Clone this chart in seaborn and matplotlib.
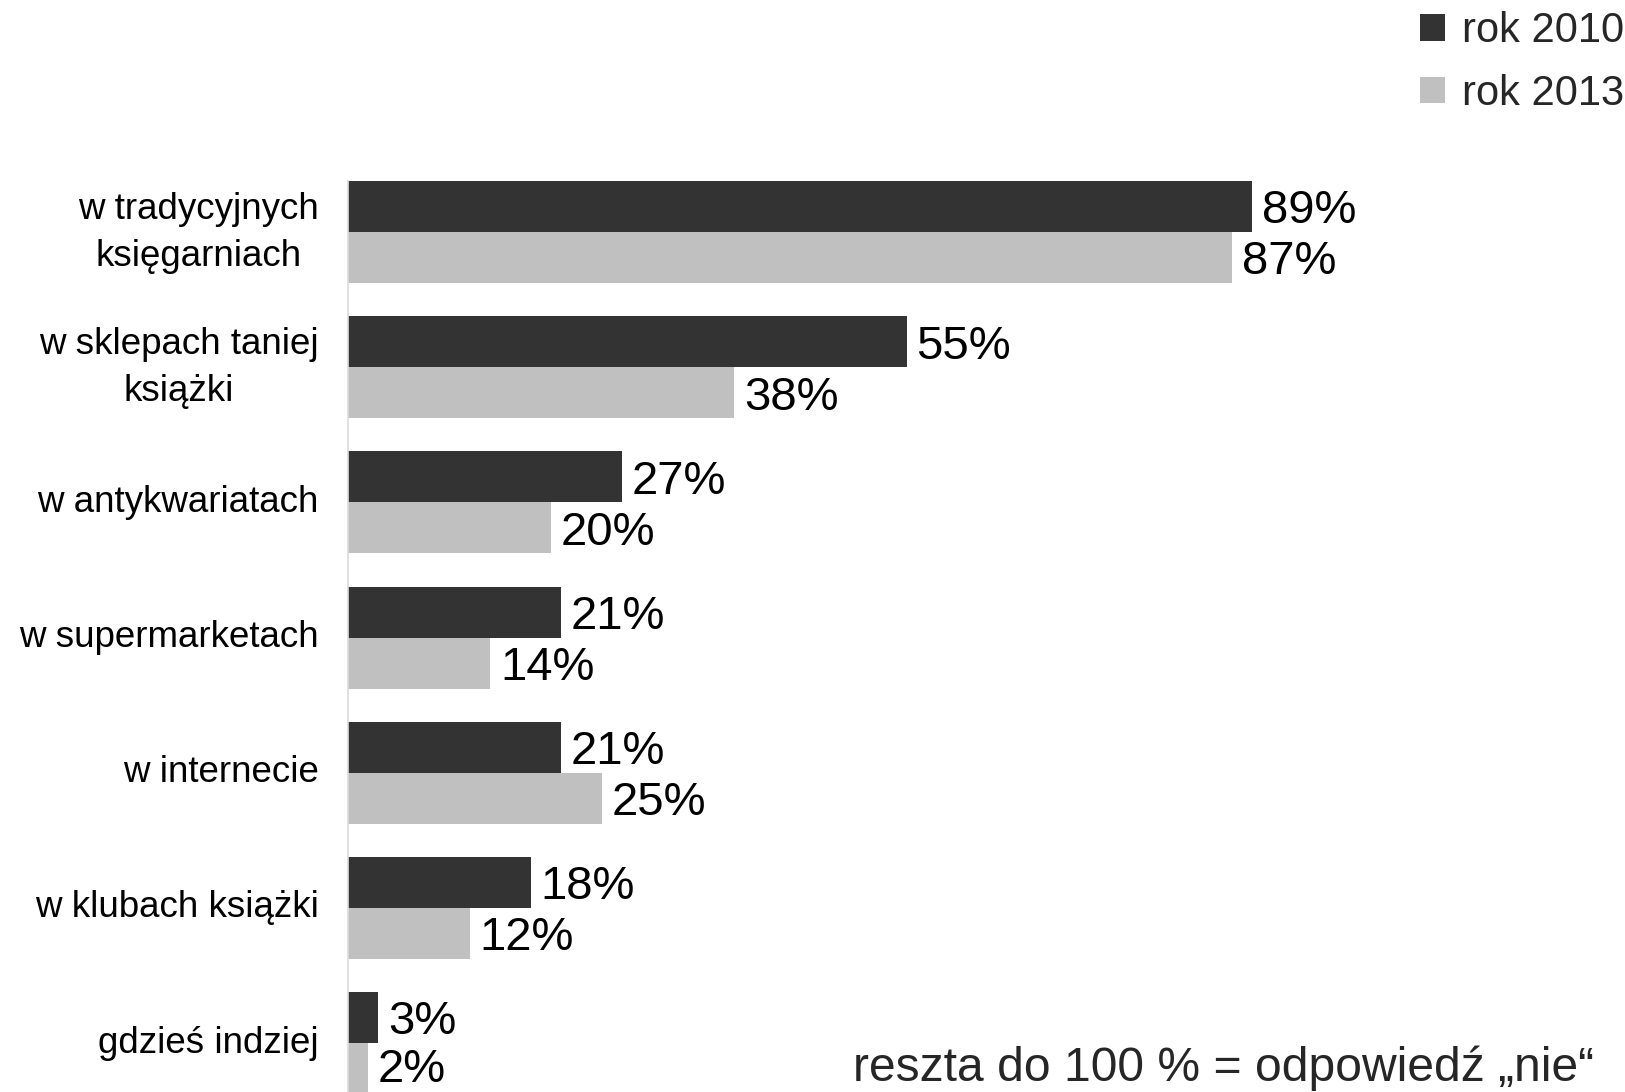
import pandas as pd
import seaborn as sns
import matplotlib.pyplot as plt
import matplotlib.transforms as mtransforms

# dane
miejsca = ["w tradycyjnych\nksięgarniach", "w sklepach taniej\nksiążki", "w antykwariatach",
           "w supermarketach", "w internecie", "w klubach książki", "gdzieś indziej"]
rok_2010 = [89, 55, 27, 21, 21, 18, 3]
rok_2013 = [87, 38, 20, 14, 25, 12, 2]
lata = ["rok 2010", "rok 2013"]

df = pd.DataFrame({
    "miejsce": miejsca * 2,
    "procent": rok_2010 + rok_2013,
    "rok": [lata[0]] * len(miejsca) + [lata[1]] * len(miejsca),
})

sns.set_style("white")
plt.rcParams['font.family'] = ['Liberation Sans', 'DejaVu Sans']

fig = plt.figure(figsize=(16.25, 10.92), dpi=100)
ax = fig.add_axes([348 / 1625, 0, 1 - 348 / 1625, (1092 - 165) / 1092])

sns.barplot(data=df, y="miejsce", x="procent", hue="rok", orient="h",
            palette=["#333333", "#c0c0c0"], width=0.755, saturation=1,
            edgecolor="none", ax=ax, legend=True)

for k, cont in enumerate(ax.containers):
    anns = ax.bar_label(cont, fmt="{:.0f}%", padding=7, fontsize=34, color="black")
    for i, a in enumerate(anns):
        # lekko w dół, jak w oryginale (ostatni zostaje, żeby się nie uciął)
        dy = -1 if (k == 1 and i == len(anns) - 1) else -3.5
        a.xyann = (a.xyann[0], dy)

ax.set_xlim(0, 125.7)
ax.set_ylim(6.362, -0.4956)
ax.set_xlabel("")
ax.set_ylabel("")
ax.set_xticks([])
ax.set_yticks(range(len(miejsca)))
ax.set_yticklabels(miejsca, fontsize=26.5, multialignment="center",
                   linespacing=1.45, color="black")
ax.tick_params(axis="y", length=0, pad=21)
for lab in ax.get_yticklabels():
    up = 9 if "\n" in lab.get_text() else 4
    lab.set_transform(lab.get_transform() + mtransforms.ScaledTranslation(0, up / 100, fig.dpi_scale_trans))
for s in ["top", "right", "bottom"]:
    ax.spines[s].set_visible(False)
ax.spines["left"].set_color("#dcdcdc")
ax.spines["left"].set_linewidth(1.2)
ax.spines["left"].set_bounds(6.362, -0.3775)

# legenda w prawym górnym rogu
handles, labels = ax.get_legend_handles_labels()
ax.get_legend().remove()
fig.legend(handles, labels, loc="upper right", bbox_to_anchor=(1.012, 1.009),
           frameon=False, fontsize=30, handlelength=0.6, handleheight=0.6,
           handletextpad=0.4, labelspacing=0.55, borderaxespad=0.1)

fig.text(1594 / 1625, 1 - 1068 / 1092, "reszta do 100 % = odpowiedź „nie“",
         ha="right", va="center", fontsize=34.6)

fig.savefig("out.png", dpi=100)
